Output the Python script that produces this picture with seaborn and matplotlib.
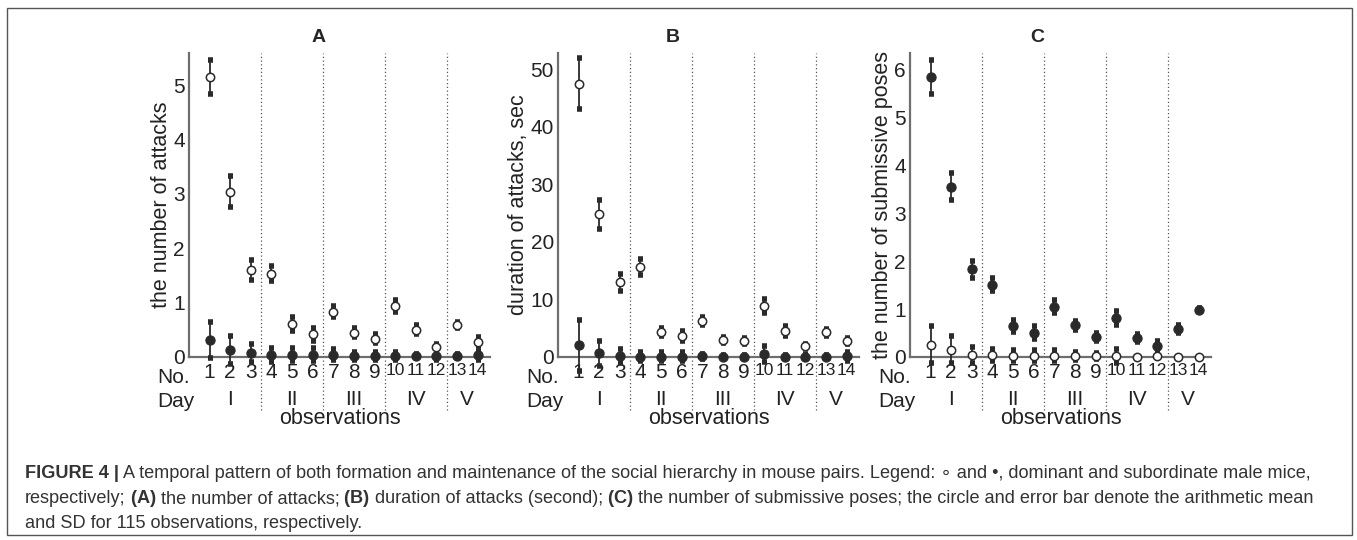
import numpy as np
import pandas as pd
import matplotlib
matplotlib.use("Agg")
import matplotlib.pyplot as plt
import seaborn as sns
from matplotlib.patches import Rectangle

# ---------------- data ----------------
obs = list(range(1, 15))
obs_labels = [str(i) for i in obs]
day_labels = ["I", "II", "III", "IV", "V"]
day_centers = [2, 5, 8, 11, 13.5]
day_bounds = [3.5, 6.5, 9.5, 12.5]

attacks_dom_mean = [5.15, 3.04, 1.60, 1.53, 0.61, 0.42, 0.83, 0.45, 0.34, 0.94, 0.50, 0.18, 0.59, 0.28]
attacks_dom_sd = [0.32, 0.29, 0.19, 0.14, 0.13, 0.12, 0.10, 0.08, 0.09, 0.11, 0.085, 0.05, 0.05, 0.08]
attacks_sub_mean = [0.32, 0.13, 0.07, 0.04, 0.04, 0.04, 0.04, 0.02, 0.02, 0.02, 0.02, 0.02, 0.02, 0.03]
attacks_sub_sd = [0.33, 0.26, 0.16, 0.13, 0.12, 0.12, 0.10, 0.07, 0.07, 0.08, 0.04, 0.07, 0.04, 0.08]

duration_dom_mean = [47.5, 24.8, 13.0, 15.6, 4.4, 3.7, 6.25, 2.95, 2.8, 8.85, 4.5, 1.9, 4.3, 2.8]
duration_dom_sd = [4.5, 2.5, 1.45, 1.4, 0.7, 0.9, 0.7, 0.6, 0.5, 1.2, 0.8, 0.4, 0.6, 0.5]
duration_sub_mean = [2.0, 0.64, 0.23, 0.05, 0.05, 0.05, 0.1, 0.05, 0.05, 0.45, 0.05, 0.05, 0.05, 0.1]
duration_sub_sd = [4.5, 2.2, 1.2, 0.8, 0.8, 0.8, 0.5, 0.3, 0.3, 1.4, 0.3, 0.4, 0.3, 0.8]

poses_dom_mean = [0.26, 0.15, 0.04, 0.04, 0.03, 0.03, 0.03, 0.02, 0.02, 0.02, 0.01, 0.02, 0.01, 0.01]
poses_dom_sd = [0.38, 0.28, 0.16, 0.13, 0.12, 0.12, 0.12, 0.08, 0.07, 0.14, 0.0, 0.04, 0.0, 0.0]
poses_sub_mean = [5.85, 3.56, 1.83, 1.51, 0.65, 0.51, 1.05, 0.66, 0.42, 0.82, 0.40, 0.24, 0.59, 0.98]
poses_sub_sd = [0.36, 0.28, 0.18, 0.14, 0.13, 0.13, 0.14, 0.09, 0.09, 0.15, 0.09, 0.10, 0.08, 0.04]

panel_titles = ["A", "B", "C"]
panel_ylabels = ["the number of attacks", "duration of attacks, sec", "the number of submissive poses"]
panel_yticks = [[0, 1, 2, 3, 4, 5], [0, 10, 20, 30, 40, 50], [0, 1, 2, 3, 4, 5, 6]]
panel_ylims = [(0, 5.59), (0, 52.8), (0, 6.35)]
x_label = "observations"

caption_lines = [
    [("FIGURE 4 |", True),
     (" A temporal pattern of both formation and maintenance of the social hierarchy in mouse pairs. "
      "Legend: \u2218 and \u2022, dominant and subordinate male mice,", False)],
    [("respectively;", False), (" (A)", True), (" the number of attacks;", False), (" (B)", True),
     (" duration of attacks (second);", False), (" (C)", True),
     (" the number of submissive poses; the circle and error bar denote the arithmetic mean", False)],
    [("and SD for 115 observations, respectively.", False)],
]

# ---------------- style ----------------
sns.set_theme(style="white")
FONT = ["Liberation Sans", "DejaVu Sans"]
plt.rcParams["font.family"] = FONT
DARK = "#2a2a2a"
AXC = "#6e6e6e"

W, H = 1357, 540
fig = plt.figure(figsize=(W / 100, H / 100), dpi=100)
fig.patch.set_facecolor("white")

ax_left_px = [189, 558, 910]
ax_w_px = 301
ax_top_px, ax_bot_px = 53, 357
title_x = [0.429, 0.382, 0.422]

panels = [
    (attacks_dom_mean, attacks_dom_sd, attacks_sub_mean, attacks_sub_sd),
    (duration_dom_mean, duration_dom_sd, duration_sub_mean, duration_sub_sd),
    (poses_dom_mean, poses_dom_sd, poses_sub_mean, poses_sub_sd),
]

for i, (dm, ds, sm, ss) in enumerate(panels):
    ax = fig.add_axes([ax_left_px[i] / W, (H - ax_bot_px) / H, ax_w_px / W, (ax_bot_px - ax_top_px) / H])
    df = pd.DataFrame({
        "obs": obs * 2,
        "mean": list(dm) + list(sm),
        "sd": list(ds) + list(ss),
        "group": ["dominant"] * 14 + ["subordinate"] * 14,
    })
    # error bars with square caps
    for g in ["subordinate", "dominant"]:
        d = df[df.group == g]
        eb = ax.errorbar(d["obs"], d["mean"], yerr=d["sd"], fmt="none", ecolor=DARK,
                         elinewidth=1.3, capsize=1.8, capthick=4.0, zorder=3)
        for art in eb.get_children():
            art.set_clip_on(False)
    sns.scatterplot(data=df[df.group == "subordinate"], x="obs", y="mean", ax=ax,
                    color=DARK, edgecolor=DARK, s=44, marker="o", linewidth=0.8,
                    zorder=5, legend=False)
    sns.scatterplot(data=df[df.group == "dominant"], x="obs", y="mean", ax=ax,
                    color="white", edgecolor=DARK, s=36, marker="o", linewidth=1.1,
                    zorder=6, legend=False)
    for c in ax.collections:
        c.set_clip_on(False)

    ax.set_xlim(0, 14.6)
    ax.set_ylim(*panel_ylims[i])
    ax.set_yticks(panel_yticks[i])
    ax.set_yticklabels([str(t) for t in panel_yticks[i]])
    ax.xaxis.remove_overlapping_locs = False
    ax.set_xticks(obs)
    ax.set_xticklabels(obs_labels)
    ax.set_xticks(day_centers, minor=True)
    ax.set_xticklabels(day_labels, minor=True)
    ax.tick_params(axis="x", which="major", length=0, pad=4, labelsize=15, colors="#222222")
    ax.tick_params(axis="x", which="minor", length=0, pad=24, labelsize=15, colors="#222222")
    ax.tick_params(axis="y", length=4, width=1.2, direction="inout", pad=1, labelsize=15,
                   colors="#222222")
    ax.tick_params(axis="y", color=AXC)
    for lab in ax.get_xticklabels()[9:]:
        lab.set_fontsize(12.5)
    for s in ["top", "right"]:
        ax.spines[s].set_visible(False)
    for s in ["left", "bottom"]:
        ax.spines[s].set_color(AXC)
        ax.spines[s].set_linewidth(1.6)
    ax.set_ylabel(panel_ylabels[i], fontsize=15.5, labelpad=1, color="#222222")
    ax.set_xlabel(x_label, fontsize=15.5, labelpad=-1, color="#222222")
    ax.set_title(panel_titles[i], x=title_x[i], pad=8, fontsize=14, fontweight="bold")
    for b in day_bounds:
        ax.axvline(b, ymin=-0.175, ymax=1.0, color="#555555", linestyle=(0, (1, 2)),
                   linewidth=0.9, clip_on=False, zorder=1)
    tr = ax.get_xaxis_transform()
    ax.text(-1.55, -0.035, "No.", transform=tr, ha="left", va="top", fontsize=15, color="#222222")
    ax.text(-1.55, -0.115, "Day", transform=tr, ha="left", va="top", fontsize=15, color="#222222")

# figure frame
fig.patches.append(Rectangle((7 / W, 1 - 535 / H), (1352 - 7) / W, (535 - 8) / H,
                             transform=fig.transFigure, fill=False, edgecolor="#555555",
                             linewidth=1.0))

# caption with bold runs
fig.canvas.draw()
renderer = fig.canvas.get_renderer()
cap_size = 12.0
cap_left_px = 25
baselines_px = [478, 503, 528]

def measure(parts, size):
    tot = 0
    for txt, bold in parts:
        t = fig.text(0, 0, txt, fontsize=size, fontweight="bold" if bold else "normal")
        tot += t.get_window_extent(renderer).width
        t.remove()
    return tot

target = 1318 - cap_left_px
w1 = measure(caption_lines[0], cap_size)
cap_size = cap_size * target / w1

for line, ypx in zip(caption_lines, baselines_px):
    x = cap_left_px
    for txt, bold in line:
        t = fig.text(x / W, 1 - ypx / H, txt, fontsize=cap_size, color="#333333",
                     fontweight="bold" if bold else "normal", ha="left", va="baseline")
        x = t.get_window_extent(renderer).x1

fig.savefig("out.png", dpi=100, facecolor="white")
